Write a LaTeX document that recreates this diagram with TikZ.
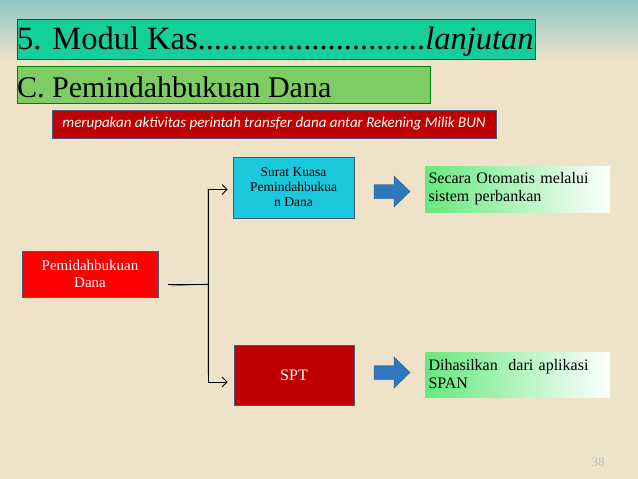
\documentclass[tikz,border=0pt]{standalone}
\usepackage{fontspec}
\setmainfont{Liberation Serif}
\newfontfamily\calfont{Carlito}
\usetikzlibrary{arrows.meta}
\definecolor{bgbeige}{HTML}{EEE2C8}
\definecolor{titlegreen}{HTML}{14CE9C}
\definecolor{subgreen}{HTML}{7ECC64}
\definecolor{bannerred}{HTML}{C00000}
\definecolor{skcyan}{HTML}{1CC8DC}
\definecolor{arrowblue}{HTML}{2F78BE}
\definecolor{boxedge}{HTML}{4A5A7A}
\tikzset{
  box/.style={draw=boxedge, line width=0.8pt, align=center, inner sep=2pt},
  greenbox/.style={draw=none, left color=green!70!teal!60, right color=white, align=left, inner sep=3pt},
  blockarrow/.style={fill=arrowblue, draw=arrowblue!70!black},
  link/.style={thick, -{Straight Barb[length=5pt]}}
}
\newcommand{\blockarr}[1]{\draw[blockarrow,shift={(#1)}] (-18,-7) -- (2,-7) -- (2,-15.5) -- (18,0) -- (2,15.5) -- (2,7) -- (-18,7) -- cycle;}
\begin{document}
\begin{tikzpicture}[x=1pt,y=-1pt]
  % Hintergrund
  \fill[bgbeige] (0,0) rectangle (638,479);
  \fill[top color=teal!45, bottom color=bgbeige] (0,0) rectangle (638,60);
  \useasboundingbox (0,0) rectangle (638,479);

  % Titel
  \node[draw=teal!70!black, fill=titlegreen, minimum width=518pt, minimum height=40pt, inner sep=0pt] (title) at (276,39) {};
  \node[anchor=west, inner sep=0pt, font=\fontsize{32.5}{34}\selectfont] (titletext) at (17,42) {5. Modul Kas............................\textit{lanjutan}};
  \node[draw=green!50!black, fill=subgreen, minimum width=413pt, minimum height=37pt, inner sep=0pt] (sub) at (223.5,84.5) {};
  \node[anchor=west, inner sep=0pt, font=\fontsize{30}{32}\selectfont] (subtext) at (17,87) {C. Pemindahbukuan Dana};
  \node[box, fill=bannerred, text=white, minimum width=444pt, minimum height=28pt, font=\calfont\itshape\fontsize{15}{16}\selectfont] (banner) at (274,124) {merupakan aktivitas perintah transfer dana antar Rekening Milik BUN};

  % Kotak
  \node[box, fill=red, text=white, minimum width=136pt, minimum height=46pt, font=\fontsize{15}{17}\selectfont] (pemi) at (90,274) {Pemidahbukuan\\Dana};
  \node[box, fill=skcyan, minimum width=121pt, minimum height=61pt, font=\fontsize{13.5}{15}\selectfont] (surat) at (293.5,187.5) {Surat Kuasa\\Pemindahbukua\\n Dana};
  \node[box, fill=bannerred, text=white, minimum width=120pt, minimum height=60pt, font=\fontsize{16}{18}\selectfont] (spt) at (294,375) {SPT};
  \node[greenbox, minimum width=185pt, minimum height=46pt, text width=178pt, font=\fontsize{16}{18}\selectfont] (otomatis) at (517.5,189) {Secara Otomatis melalui\\sistem perbankan};
  \node[greenbox, minimum width=185pt, minimum height=45pt, text width=178pt, font=\fontsize{16}{18}\selectfont] (span) at (517.5,374.5) {Dihasilkan\ \ dari aplikasi\\SPAN};
  \blockarr{392,191.5}
  \blockarr{392,372.5}

  % Verbindungen
  \coordinate (split) at (208,284);
  \draw[gray, thick, xshift=3pt, yshift=-2pt] (168,284) -- (split) (split |- surat.west) -- (split |- spt.west);
  \draw[thick] (168,284) -- (split);
  \draw[link] (split) |- ([xshift=-5pt,yshift=-2pt]surat.west);
  \draw[link] (split) |- ([xshift=-6pt,yshift=-7pt]spt.west);

  \node[text=gray!50, font=\fontsize{13}{14}\selectfont] (page) at (598,462) {38};
\end{tikzpicture}
\end{document}
